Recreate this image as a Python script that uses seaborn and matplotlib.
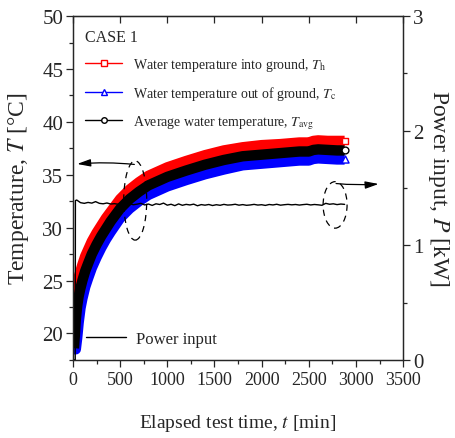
import numpy as np
import pandas as pd
import matplotlib
matplotlib.use("Agg")
import matplotlib.pyplot as plt
import seaborn as sns
from matplotlib.lines import Line2D
from matplotlib.patches import Ellipse
from matplotlib.ticker import MultipleLocator

# elapsed time [min] and water temperatures [degC]
t_min = [10, 20, 30, 45, 60, 80, 100, 130, 160, 200, 250, 300, 350, 400, 500, 600,
         700, 800, 1000, 1200, 1400, 1600, 1800, 2000, 2200, 2400, 2500, 2550, 2600,
         2700, 2800, 2880]
T_h = [21.0, 22.4, 23.6, 24.6, 25.3, 25.9, 26.5, 27.3, 27.9, 28.7, 29.5, 30.2, 30.9,
       31.5, 32.7, 33.6, 34.3, 34.9, 35.7, 36.3, 36.85, 37.3, 37.6, 37.8, 37.9, 38.05,
       38.05, 38.2, 38.25, 38.2, 38.2, 38.2]
T_c = [18.5, 18.5, 18.5, 19.6, 21.0, 22.4, 23.3, 24.4, 25.2, 26.2, 27.2, 28.1, 28.9,
       29.6, 30.9, 31.8, 32.5, 33.1, 33.9, 34.5, 35.05, 35.5, 35.9, 36.05, 36.2, 36.35,
       36.35, 36.5, 36.55, 36.5, 36.45, 36.45]
T_avg = [18.6, 19.8, 21.3, 22.6, 23.5, 24.3, 25.0, 25.9, 26.6, 27.5, 28.4, 29.2, 29.9,
         30.6, 31.8, 32.7, 33.4, 34.0, 34.8, 35.4, 35.95, 36.4, 36.75, 36.9, 37.05, 37.2,
         37.2, 37.35, 37.4, 37.35, 37.3, 37.3]

# power input [kW]
t_pow = [0, 24, 26] + list(range(40, 2881, 40))
P_kw = [0.0, 0.0, 1.39,
        1.395, 1.372, 1.366, 1.374, 1.368, 1.381, 1.366, 1.362, 1.369, 1.360, 1.363, 1.358,
        1.361, 1.357, 1.362, 1.354, 1.359, 1.366, 1.352, 1.360, 1.348, 1.362, 1.356, 1.368,
        1.350, 1.358, 1.346, 1.361, 1.349, 1.357, 1.352, 1.359, 1.345, 1.355, 1.350, 1.356,
        1.347, 1.354, 1.349, 1.357, 1.351, 1.353, 1.358, 1.350, 1.355, 1.349, 1.352, 1.357,
        1.351, 1.354, 1.348, 1.356, 1.352, 1.358, 1.350, 1.354, 1.357, 1.353, 1.356, 1.351,
        1.355, 1.358, 1.352, 1.356, 1.353, 1.349, 1.366, 1.358, 1.362, 1.355, 1.360, 1.357]

labels = ["Water temperature into ground, $T_\\mathrm{h}$",
          "Water temperature out of ground, $T_\\mathrm{c}$",
          "Average water temperature, $T_\\mathrm{avg}$"]

sns.set_style("ticks")
plt.rcParams["font.family"] = ["Liberation Serif", "DejaVu Serif"]
plt.rcParams["mathtext.fontset"] = "stix"

df = pd.DataFrame({"t": t_min, "Th": T_h, "Tc": T_c, "Tavg": T_avg})
dfp = pd.DataFrame({"t": t_pow, "P": P_kw})

fig = plt.figure(figsize=(4.56, 4.39), dpi=100)
ax = fig.add_axes([0.160, 0.178, 0.724, 0.783])

# thick bands (dense markers in the original)
for col, c in [("Th", "red"), ("Tc", "blue"), ("Tavg", "black")]:
    sns.lineplot(data=df, x="t", y=col, ax=ax, color=c, lw=7.5, sort=True,
                 solid_capstyle="butt", estimator=None)
last = df.iloc[[-1]]
sns.scatterplot(data=last, x="t", y="Th", ax=ax, marker="s", s=22, color="white",
                edgecolor="red", linewidth=1, zorder=5)
sns.scatterplot(data=last, x="t", y="Tavg", ax=ax, marker="o", s=24, color="white",
                edgecolor="black", linewidth=1, zorder=5)
sns.scatterplot(data=last, x="t", y="Tc", ax=ax, marker="^", s=26, color="white",
                edgecolor="blue", linewidth=1, zorder=5)

ax.set_xlim(0, 3500)
ax.set_ylim(17.5, 50)
ax.xaxis.set_major_locator(MultipleLocator(500))
ax.xaxis.set_minor_locator(MultipleLocator(250))
ax.yaxis.set_major_locator(MultipleLocator(5))
ax.yaxis.set_minor_locator(MultipleLocator(2.5))
ax.tick_params(which="both", direction="out", width=0.9, labelsize=13, pad=3)
ax.tick_params(which="major", length=5)
ax.tick_params(which="minor", length=3)
ax.tick_params(axis="y", labelsize=15, pad=2)
ax.set_xlabel("Elapsed test time, $t$ [min]", fontsize=14, labelpad=17)
ax.set_ylabel("Temperature, $T$ [\u00b0C]", fontsize=17, labelpad=8)

top = ax.secondary_xaxis("top")
top.xaxis.set_major_locator(MultipleLocator(500))
top.tick_params(direction="in", length=5, width=0.9, labeltop=False)

ax2 = ax.twinx()
sns.lineplot(data=dfp, x="t", y="P", ax=ax2, color="black", lw=1.0, estimator=None,
             label="Power input")
ax2.set_ylim(0, 3)
ax2.yaxis.set_major_locator(MultipleLocator(1))
ax2.yaxis.set_minor_locator(MultipleLocator(0.5))
ax2.tick_params(which="both", direction="out", width=0.9, labelsize=15, pad=2)
ax2.tick_params(which="major", length=5)
ax2.tick_params(which="minor", length=3)
ax2.set_ylabel("Power input, $P$ [kW]", fontsize=17, rotation=270, labelpad=20)

for a in (ax, ax2):
    for s in a.spines.values():
        s.set_linewidth(0.9)

# legend of the temperature series
handles = [Line2D([], [], color="red", lw=1, marker="s", ms=4, mfc="white", mec="red"),
           Line2D([], [], color="blue", lw=1, marker="^", ms=4.5, mfc="white", mec="blue"),
           Line2D([], [], color="black", lw=1, marker="o", ms=4, mfc="white", mec="black")]
leg = ax2.legend(handles, labels, title="CASE 1", loc="upper left", frameon=False,
                 fontsize=10, title_fontsize=11.5, labelspacing=0.8, handlelength=2.6,
                 handletextpad=0.8, borderaxespad=0.5, alignment="left")
ax2.add_artist(leg)
ax2.legend(loc="lower left", frameon=False, fontsize=12, handlelength=2.4,
           handletextpad=0.6, borderaxespad=0.4)

# dashed ellipses and arrows pointing to the axes
ax.add_patch(Ellipse((660, 32.57), 244, 7.5, fill=False, ls=(0, (5, 4)), lw=0.9,
                     color="black", zorder=6))
ax.add_patch(Ellipse((2779, 32.15), 254, 4.4, fill=False, ls=(0, (5, 4)), lw=0.9,
                     color="black", zorder=6))
ax.annotate("", xy=(15, 36.0), xytext=(680, 35.95),
            arrowprops=dict(arrowstyle="-|>,head_length=0.8,head_width=0.22", lw=0.9,
                            color="black", connectionstyle="arc3,rad=0.05"))
ax.annotate("", xy=(3270, 34.15), xytext=(2760, 34.2),
            arrowprops=dict(arrowstyle="-|>,head_length=0.8,head_width=0.22", lw=0.9,
                            color="black", connectionstyle="arc3,rad=0.05"))

fig.savefig("out.png", dpi=100)
